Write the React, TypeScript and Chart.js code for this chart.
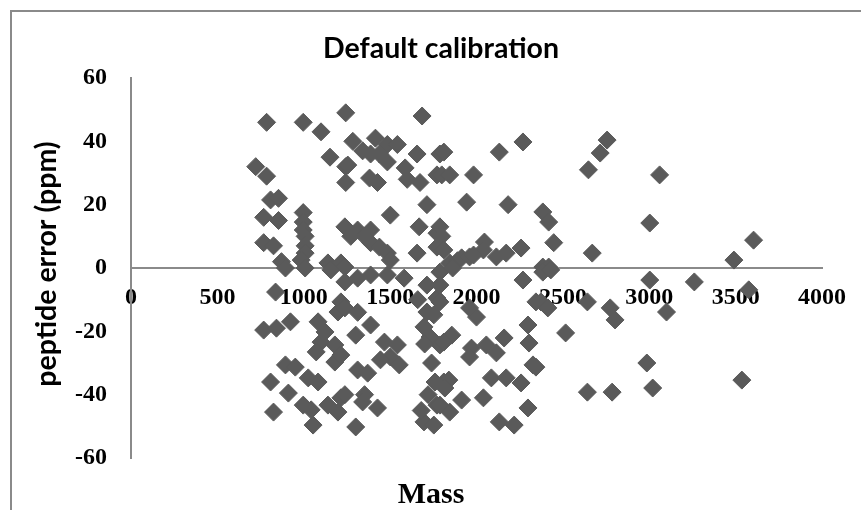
import React, { useEffect, useRef } from "react";
import { Chart, registerables } from "chart.js";

Chart.register(...registerables);

const chartTitle = "Default calibration";
const xAxisTitle = "Mass";
const yAxisTitle = "peptide error (ppm)";

const xTicks = { min: 0, max: 4000, step: 500 };
const yTicks = { min: -60, max: 60, step: 20 };

// Mass of each peptide
const massValues: number[] = [
  785, 997, 1100, 1243, 1152, 722, 785, 1243, 1243, 808, 854, 768, 854, 997, 997, 997, 1008, 1238, 768, 825,
  1008, 1008, 871, 1140, 1215, 985, 1685, 1284, 1415, 1341, 1484, 1542, 1438, 1484, 1387, 1656, 1788, 1255, 1587, 1381,
  1427, 1599, 1673, 1771, 1713, 1501, 1312, 1352, 1387, 1387, 1272, 1438, 1484, 1501, 1668, 1656, 1771, 1771, 1238, 1811,
  2132, 2269, 1799, 1845, 1983, 1943, 2183, 2384, 1788, 1799, 1811, 2046, 2040, 2172, 2258, 2115, 1845, 1890, 1914, 1960,
  1983, 2384, 2756, 2716, 2648, 3060, 2418, 2447, 2670, 3003, 3490, 3604, 2418,
  837, 923, 768, 842, 1083, 1123, 1100, 1180, 1072, 1180, 894, 951, 808, 1026, 1083, 911, 997, 1140, 825, 1043,
  1054, 1198, 1215, 1215, 1198, 894, 1008, 1157, 1238, 1312, 1387, 1484, 1581, 1713, 1238, 1312, 1387, 1301, 1467, 1542,
  1501, 1444, 1215, 1312, 1370, 1553, 1238, 1352, 1341, 1427, 1301, 1696, 1731, 1788, 1811, 1771, 1696, 1753, 1753, 1713,
  1771, 1788, 1862, 1788, 2269, 2344, 1788, 2000, 1960, 2298, 2304, 1857, 1811, 1971, 1960, 2057, 2160, 2115, 2327, 2086,
  2172, 2258, 2040, 1914, 1840, 1817, 1845, 1788, 2298, 2132, 2218, 2384, 2430, 3003, 3261, 3576, 2373, 2413, 2642, 2774,
  2802, 3100, 2516, 2344, 2986, 2642, 2785, 3020, 3536, 1660, 1700, 1740, 1760, 1720, 1680,
];

// Error (ppm) of each peptide, same order as massValues
const errorValues: number[] = [
  46, 46, 43, 49, 35, 32, 29, 32, 27, 21.5, 22, 16, 15, 17.5, 14.5, 12, 10, 13, 8, 7,
  7, 4.7, 2, 1.6, 1.6, 2.5, 48, 40, 41, 37, 39, 39, 36, 33.5, 36, 36, 36, 32.5, 31.6, 28.4,
  27, 28, 27, 29.4, 20, 16.7, 12, 10, 12, 8, 10, 6.6, 4.7, 2.5, 13, 4.7, 11, 6.6, 0.3, 36.6,
  36.6, 39.8, 29.4, 29.4, 29.4, 20.8, 20, 17.7, 13, 10, 5.7, 8.2, 5.7, 4.7, 6.3, 3.5, 1.6, 2.3, 3.2, 3.5,
  4.1, 0.3, 40.4, 36.3, 31, 29.4, 14.5, 8, 4.7, 14.2, 2.5, 8.8, 0.3,
  -7.6, -17, -19.6, -19, -17, -20.2, -23.4, -24.3, -26.5, -29.7, -30.6, -31.3, -36, -34.7, -36, -39.5, -43.3, -43.3, -45.5, -44.8,
  -49.6, -45.5, -41, -10.7, -13.9, 0, 0, -0.6, -4.4, -3.2, -2.2, -2.2, -3.2, -5.4, -12.6, -14, -18, -21.2, -23.4, -24.3,
  -28.1, -29, -27.5, -32.2, -33.2, -30.6, -40, -40, -42.3, -44.2, -50.2, -18.6, -21.8, -24.3, -36, -43.3, -48.6, -49.6, -14.8, -13.9,
  -9.5, -1.3, 0, -5.4, -3.8, -10.7, -10.7, -15.5, -12.6, -18, -23.7, -21.2, -23.4, -25.3, -28.1, -24.3, -22.1, -26.8, -30.6, -34.7,
  -34.7, -36.3, -41, -41.7, -35.4, -37.9, -45.5, -43.3, -44.2, -48.6, -49.6, -1.3, -0.6, -3.8, -4.4, -6.9, -10.7, -12.6, -10.7, -12.6,
  -16.4, -13.9, -20.5, -31.3, -30, -39.2, -39.2, -37.9, -35.4, -10, -24, -30, -36, -40, -45,
];

const MARKER = "#5a5a5a";
const AXIS = "#8a8a8a";
const SERIF = "Liberation Serif";
const SANS = "Lato";
const TICK_FONT = { family: SERIF, size: 24, weight: "bold" as const, style: "normal" as const, lineHeight: 1.2 };

const framePlugin = {
  id: "frameAndTitles",
  beforeDraw(chart: Chart) {
    const { ctx } = chart;
    ctx.save();
    ctx.fillStyle = "#ffffff";
    ctx.fillRect(0, 0, chart.width, chart.height);
    ctx.strokeStyle = AXIS;
    ctx.lineWidth = 2;
    ctx.strokeRect(11, 11, chart.width + 20, chart.height + 20);
    ctx.restore();
  },
  afterDraw(chart: Chart) {
    const { ctx, chartArea } = chart;
    ctx.save();
    ctx.fillStyle = "#000000";
    ctx.textAlign = "center";
    ctx.textBaseline = "alphabetic";
    ctx.font = `bold 28.5px ${SANS}`;
    ctx.fillText(chartTitle, 441, chartArea.top - 20);

    ctx.font = `bold 30px "${SERIF}"`;
    ctx.fillText(xAxisTitle, 431, chartArea.bottom + 45);

    ctx.translate(56, (chartArea.top + chartArea.bottom) / 2 - 4);
    ctx.rotate(-Math.PI / 2);
    ctx.font = `bold 28.5px ${SANS}`;
    ctx.fillText(yAxisTitle, 0, 0);
    ctx.restore();
  },
};

export default function App() {
  const canvasRef = useRef<HTMLCanvasElement | null>(null);

  useEffect(() => {
    const canvas = canvasRef.current;
    if (!canvas) return;
    Chart.defaults.font.family = SERIF;
    const points = massValues.map((m, i) => ({ x: m, y: errorValues[i] }));
    const chart = new Chart(canvas, {
      type: "scatter",
      data: {
        datasets: [
          {
            label: "peptides",
            data: points,
            pointStyle: "rectRot",
            pointRadius: 9,
            pointBorderWidth: 1,
            backgroundColor: MARKER,
            borderColor: MARKER,
          },
        ],
      },
      options: {
        responsive: false,
        animation: false,
        events: [],
        layout: { padding: { left: 60, right: 32, top: 78, bottom: 52 } },
        plugins: {
          legend: { display: false },
          title: { display: false },
          tooltip: { enabled: false },
        },
        scales: {
          x: {
            type: "linear",
            position: { y: 0 },
            min: xTicks.min,
            max: xTicks.max,
            grid: { display: false, drawTicks: false },
            border: { display: true, color: AXIS, width: 2 },
            ticks: {
              stepSize: xTicks.step,
              color: "#000",
              font: TICK_FONT,
              padding: 15,
              maxRotation: 0,
              autoSkip: false,
              callback: (v: any) => String(v),
            },
          },
          y: {
            type: "linear",
            position: "left",
            min: yTicks.min,
            max: yTicks.max,
            grid: { display: false, drawTicks: false },
            border: { display: true, color: AXIS, width: 2 },
            ticks: {
              stepSize: yTicks.step,
              color: "#000",
              font: TICK_FONT,
              padding: 24,
              callback: (v: any) => String(v),
            },
            afterFit(scale: any) {
              scale.width = 71;
            },
          },
        },
      },
      plugins: [framePlugin],
    });
    return () => chart.destroy();
  }, []);

  return (
    <div style={{ position: "fixed", left: 0, top: 0, width: 861, height: 510, overflow: "hidden", background: "#fff" }}>
      <canvas ref={canvasRef} width={861} height={510} style={{ display: "block" }} />
    </div>
  );
}
